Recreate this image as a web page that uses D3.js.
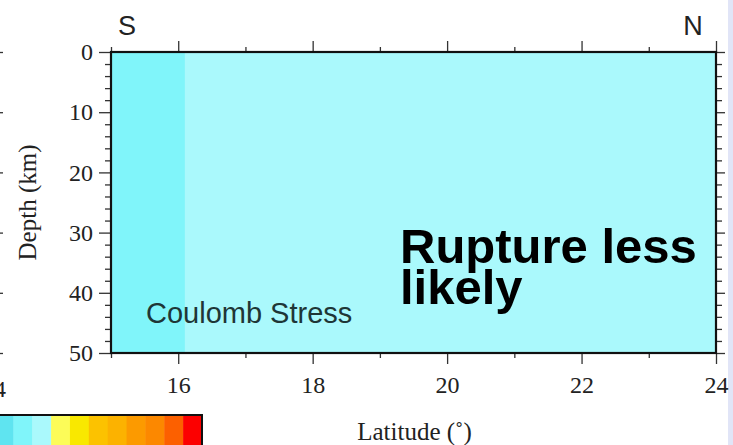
<!DOCTYPE html>
<html>
<head>
<meta charset="utf-8">
<script src="https://cdn.jsdelivr.net/npm/d3@7"></script>
<style>
  html, body { margin: 0; padding: 0; background: #ffffff; }
  svg { display: block; }
</style>
</head>
<body>
<svg id="chart" width="733" height="445"></svg>
<script>
// Coulomb stress section: latitude cell edges and stress value per cell
const latEdges = [15, 16.1, 24];
const cellStress = [-0.75, -0.55];

// Colour palette of the stress scale (one colour per bin) and bin edges
const paletteColours = ["#5fe4f0", "#80f5fa", "#aaf9fc", "#fcfc58", "#f9e800", "#fcc200",
                        "#fcb200", "#fc9a00", "#fc8800", "#fc6000", "#fc0000"];
const paletteEdges = [-1.1, -0.9, -0.7, -0.5, -0.3, -0.1, 0.1, 0.3, 0.5, 0.7, 0.9, 1.1];

// Axis ticks
const latMajorTicks = [16, 18, 20, 22, 24];
const latMinorTicks = [15, 17, 19, 21, 23];
const depthMajorTicks = [0, 10, 20, 30, 40, 50];
const depthMinorTicks = [2, 4, 6, 8, 12, 14, 16, 18, 22, 24, 26, 28, 32, 34, 36, 38, 42, 44, 46, 48];

// Text
const xTitle = "Latitude (\u02DA)";
const yTitle = "Depth (km)";
const southLabel = "S", northLabel = "N";
const panelLabel = "Coulomb Stress";
const noteLines = ["Rupture less", "likely"];

const svg = d3.select("#chart");
const W = 733, H = 445;

const x = d3.scaleLinear().domain([15, 24]).range([111, 716]);
const y = d3.scaleLinear().domain([0, 50]).range([52, 353]);

const colour = d3.scaleThreshold()
  .domain(paletteEdges.slice(1, -1))
  .range(paletteColours);

// slide background strip on the right
svg.append("rect").attr("x", 728).attr("y", 0).attr("width", 5).attr("height", H)
  .attr("fill", "#e1e5f7");

// stress cells
const cells = cellStress.map((v, i) => ({ x0: latEdges[i], x1: latEdges[i + 1], v }));
svg.append("g").selectAll("rect").data(cells).join("rect")
  .attr("x", d => x(d.x0))
  .attr("y", y(0))
  .attr("width", d => x(d.x1) - x(d.x0))
  .attr("height", y(50) - y(0))
  .attr("fill", d => colour(d.v));

const serif = "'Liberation Serif', 'Times New Roman', serif";
const sans = "'Liberation Sans', Arial, sans-serif";

// Axes
const bottomMajor = d3.axisBottom(x).tickValues(latMajorTicks).tickSize(11).tickPadding(12)
  .tickFormat(d3.format("d"));
const bottomMinor = d3.axisBottom(x).tickValues(latMinorTicks).tickSize(5).tickFormat("");
const topMajor = d3.axisTop(x).tickValues(latMajorTicks).tickSize(11).tickFormat("");
const topMinor = d3.axisTop(x).tickValues(latMinorTicks).tickSize(5).tickFormat("");
const leftMajor = d3.axisLeft(y).tickValues(depthMajorTicks).tickSize(12).tickPadding(6)
  .tickFormat(d3.format("d"));
const leftMinor = d3.axisLeft(y).tickValues(depthMinorTicks).tickSize(6).tickFormat("");
const rightMajor = d3.axisRight(y).tickValues(depthMajorTicks).tickSize(9).tickFormat("");
const rightMinor = d3.axisRight(y).tickValues(depthMinorTicks).tickSize(6).tickFormat("");

function styleAxis(g) {
  g.select(".domain").remove();
  g.selectAll(".tick line").attr("stroke", "#333").attr("stroke-width", 1.3);
  g.selectAll(".tick text").attr("fill", "#222").attr("font-family", serif).attr("font-size", 24);
}

svg.append("g").attr("transform", `translate(0,${y(50)})`).call(bottomMajor).call(styleAxis);
svg.append("g").attr("transform", `translate(0,${y(50)})`).call(bottomMinor).call(styleAxis);
svg.append("g").attr("transform", `translate(0,${y(0)})`).call(topMajor).call(styleAxis);
svg.append("g").attr("transform", `translate(0,${y(0)})`).call(topMinor).call(styleAxis);
svg.append("g").attr("transform", `translate(${x(15)},0)`).call(leftMajor).call(styleAxis);
svg.append("g").attr("transform", `translate(${x(15)},0)`).call(leftMinor).call(styleAxis);
svg.append("g").attr("transform", `translate(${x(24)},0)`).call(rightMajor).call(styleAxis);
svg.append("g").attr("transform", `translate(${x(24)},0)`).call(rightMinor).call(styleAxis);

// neighbouring panel's right-hand axis just off the left edge
const neighbourX = -6;
svg.append("g").attr("transform", `translate(${neighbourX},0)`)
  .call(d3.axisRight(y).tickValues(depthMajorTicks).tickSize(9).tickFormat(""))
  .call(styleAxis);
svg.append("text").attr("x", neighbourX).attr("y", y(50) + 44)
  .attr("text-anchor", "middle").attr("font-family", serif).attr("font-size", 24)
  .attr("fill", "#222").text("24");

// frame
svg.append("rect").attr("x", x(15)).attr("y", y(0))
  .attr("width", x(24) - x(15)).attr("height", y(50) - y(0))
  .attr("fill", "none").attr("stroke", "#111").attr("stroke-width", 2.2);

// axis titles
svg.append("text").attr("x", (x(15) + x(24)) / 2 + 1).attr("y", 440)
  .attr("text-anchor", "middle").attr("font-family", serif).attr("font-size", 25)
  .attr("fill", "#222").text(xTitle);
svg.append("text").attr("transform", `translate(36,${(y(0) + y(50)) / 2}) rotate(-90)`)
  .attr("text-anchor", "middle").attr("font-family", serif).attr("font-size", 25)
  .attr("fill", "#222").text(yTitle);

// S / N
svg.append("text").attr("x", 127).attr("y", 35).attr("text-anchor", "middle")
  .attr("font-family", sans).attr("font-size", 27).attr("fill", "#222").text(southLabel);
svg.append("text").attr("x", 693).attr("y", 35).attr("text-anchor", "middle")
  .attr("font-family", sans).attr("font-size", 27).attr("fill", "#222").text(northLabel);

// panel label
svg.append("text").attr("x", 146).attr("y", 323)
  .attr("font-family", sans).attr("font-size", 29).attr("fill", "#1e3636").text(panelLabel);

// annotation
const note = svg.append("text").attr("font-family", sans).attr("font-weight", "bold")
  .attr("font-size", 49).attr("fill", "#000");
noteLines.forEach((t, i) => {
  note.append("tspan").attr("x", 400).attr("y", 263 + i * 41).text(t);
});

// colour scale bar
const cb = d3.scaleLinear().domain([paletteEdges[0], paletteEdges[paletteEdges.length - 1]])
  .range([-5.5, 202]);
const bins = paletteColours.map((c, i) => ({ a: paletteEdges[i], b: paletteEdges[i + 1], c }));
svg.append("g").selectAll("rect").data(bins).join("rect")
  .attr("x", d => cb(d.a)).attr("y", 415)
  .attr("width", d => cb(d.b) - cb(d.a) + 0.5).attr("height", 40)
  .attr("fill", d => d.c);
svg.append("rect").attr("x", cb(paletteEdges[0])).attr("y", 415)
  .attr("width", cb(paletteEdges[paletteEdges.length - 1]) - cb(paletteEdges[0])).attr("height", 40)
  .attr("fill", "none").attr("stroke", "#111").attr("stroke-width", 2);
</script>
</body>
</html>
